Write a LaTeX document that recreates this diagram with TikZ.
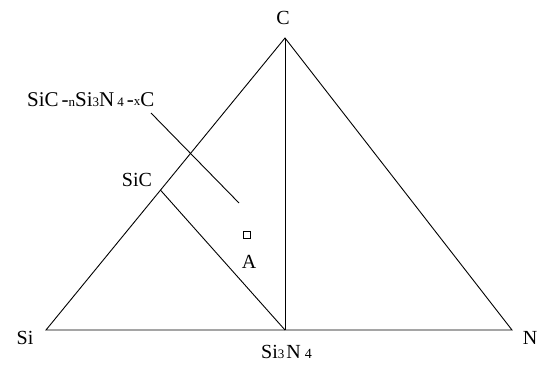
\documentclass[tikz,border=0pt]{standalone}
\usepackage{fontspec}
\setmainfont{Liberation Serif}
\usepackage{xcolor}
\usepackage{tikz}
\usetikzlibrary{shapes,arrows,positioning,calc}

\newcommand{\lblfont}{\fontsize{20}{22}\selectfont}
\newcommand{\mixfont}{\fontsize{21}{23}\selectfont}
\newcommand{\subfont}{\fontsize{13}{14}\selectfont}

\tikzset{
  lbl/.style={inner sep=0pt,font=\lblfont},
  phaseline/.style={line width=0.9pt,black}
}

\begin{document}
\begin{tikzpicture}[x=1pt,y=-1pt]
    \useasboundingbox (0,0) rectangle (542,367);
    % 三角形顶点
    \coordinate (si) at (46,330);
    \coordinate (n) at (512,330);
    \coordinate (c) at (285,38);
    \coordinate (sin) at (285,330);
    \coordinate (sic) at ($(si)!0.479!(c)$);
    % 三角形
    \draw[phaseline] (si) -- (n) -- (c) -- cycle;
    \draw[phaseline] (c) -- (sin);
    \draw[phaseline] (sic) -- (sin);
    % 指示线
    \coordinate (p1) at (151,113);
    \coordinate (p2) at (239,203);
    \draw[phaseline] (p1) -- (p2);
    % 点A
    \node[draw,line width=0.8pt,minimum size=7pt,inner sep=0pt] (pa) at (247,235) {};
    % 标签
    \node[lbl] (lc) at (283,18) {C};
    \node[lbl] (lsi) at (25,338) {Si};
    \node[lbl] (ln) at (530,338) {N};
    \node[lbl,anchor=west] (lsin) at (261,352) {Si\subfont 3\lblfont\hspace{2pt}N\hspace{4pt}\fontsize{14}{15}\selectfont 4};
    \node[lbl] (lsic) at (137,180) {SiC};
    \node[lbl] (la) at (249,262) {A};
    \node[lbl,anchor=west,font=\mixfont] (lmix) at (27,100)
      {SiC\hspace{3pt}-\subfont n\mixfont Si\subfont 3\mixfont N\hspace{3pt}\subfont 4\mixfont\hspace{3pt}-\raisebox{1pt}{\subfont x}C};
  \end{tikzpicture}
\end{document}
